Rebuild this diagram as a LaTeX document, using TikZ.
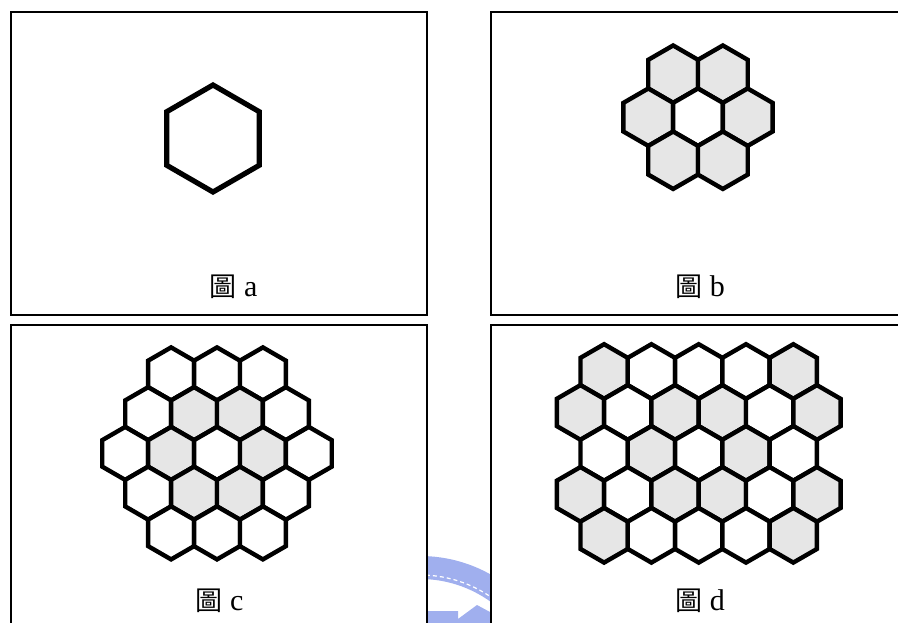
\documentclass[tikz,border=0pt]{standalone}
\usepackage{fontspec}
\usetikzlibrary{calc}
\setmainfont{Liberation Serif}
\newfontfamily\cjk{Noto Sans CJK TC}
\definecolor{hexgray}{HTML}{E6E6E6}
\definecolor{wmblue}{RGB}{160,175,238}
\newcommand\hexcell[4]{\draw[hexline,fill=#4] (#1,#2) +(90:#3) -- +(150:#3) -- +(210:#3) -- +(270:#3) -- +(330:#3) -- +(30:#3) -- cycle;}
\tikzset{
  panel/.style={draw=black,line width=2pt,fill=white},
  hexline/.style={draw=black,line width=4.4pt,line join=miter},
  caption/.style={anchor=base,inner sep=0pt,font=\fontsize{30}{31}\selectfont}
}
\begin{document}
\begin{tikzpicture}[x=1pt,y=-1pt]
\useasboundingbox (0,0) rectangle (898,623);
% watermark in the gap
\begin{scope}
  \clip (428,530) rectangle (490,623);
  \fill[wmblue,even odd rule] (420,700) circle (144) (420,700) circle (121);
  \draw[white,line width=1.2pt,dash pattern=on 4pt off 3pt] (420,700) circle (125);
  \foreach \a in {50,54.6,...,96} {
    \pgfmathsetmacro\b{\a+2.6}
    \fill[wmblue] ($(420,700)+(\a:143)$) -- ($(420,700)+(\a:153)$) -- ($(420,700)+(\b:153)$) -- ($(420,700)+(\b:143)$) -- cycle;
  }
  \fill[wmblue] (428,611) -- (458,611) -- (458,619) -- (477,605) -- (490,612) -- (490,623) -- (428,623) -- cycle;
\end{scope}
% panels
\draw[panel] (11,12.5) rectangle (427,315);
\draw[panel] (491,12.5) rectangle (908,315);
\draw[panel] (11,325) rectangle (427,640);
\draw[panel] (491,325) rectangle (908,640);
% panel a
\draw[draw=black,line width=5.2pt,line join=miter] (213,138.5) +(90:53.5) -- +(150:53.5) -- +(210:53.5) -- +(270:53.5) -- +(330:53.5) -- +(30:53.5) -- cycle;
% panel b
\hexcell{673.15}{74.15}{28.7}{hexgray}
\hexcell{722.85}{74.15}{28.7}{hexgray}
\hexcell{648.3}{117.2}{28.7}{hexgray}
\hexcell{698}{117.2}{28.7}{white}
\hexcell{747.7}{117.2}{28.7}{hexgray}
\hexcell{673.15}{160.25}{28.7}{hexgray}
\hexcell{722.85}{160.25}{28.7}{hexgray}
% panel c  (R=26.5, w=45.9, dy=39.75)
\foreach \f [count=\i from 0] in {white,white,white}
  {\pgfmathsetmacro\xx{217+(\i-1)*45.9}\hexcell{\xx}{373.9}{26.5}{\f}}
\foreach \f [count=\i from 0] in {white,hexgray,hexgray,white}
  {\pgfmathsetmacro\xx{217+(\i-1.5)*45.9}\hexcell{\xx}{413.65}{26.5}{\f}}
\foreach \f [count=\i from 0] in {white,hexgray,white,hexgray,white}
  {\pgfmathsetmacro\xx{217+(\i-2)*45.9}\hexcell{\xx}{453.4}{26.5}{\f}}
\foreach \f [count=\i from 0] in {white,hexgray,hexgray,white}
  {\pgfmathsetmacro\xx{217+(\i-1.5)*45.9}\hexcell{\xx}{493.15}{26.5}{\f}}
\foreach \f [count=\i from 0] in {white,white,white}
  {\pgfmathsetmacro\xx{217+(\i-1)*45.9}\hexcell{\xx}{532.9}{26.5}{\f}}
% panel d (R=27.3, w=47.3, dy=40.95)
\foreach \f [count=\i from 0] in {hexgray,white,white,white,hexgray}
  {\pgfmathsetmacro\xx{698.7+(\i-2)*47.3}\hexcell{\xx}{371.5}{27.3}{\f}}
\foreach \f [count=\i from 0] in {hexgray,white,hexgray,hexgray,white,hexgray}
  {\pgfmathsetmacro\xx{698.7+(\i-2.5)*47.3}\hexcell{\xx}{412.45}{27.3}{\f}}
\foreach \f [count=\i from 0] in {white,hexgray,white,hexgray,white}
  {\pgfmathsetmacro\xx{698.7+(\i-2)*47.3}\hexcell{\xx}{453.4}{27.3}{\f}}
\foreach \f [count=\i from 0] in {hexgray,white,hexgray,hexgray,white,hexgray}
  {\pgfmathsetmacro\xx{698.7+(\i-2.5)*47.3}\hexcell{\xx}{494.35}{27.3}{\f}}
\foreach \f [count=\i from 0] in {hexgray,white,white,white,hexgray}
  {\pgfmathsetmacro\xx{698.7+(\i-2)*47.3}\hexcell{\xx}{535.3}{27.3}{\f}}
% captions
\node[caption] (la) at (233.5,297) {{\cjk\fontsize{27}{28}\selectfont 圖} a};
\node[caption] (lb) at (700,297) {{\cjk\fontsize{27}{28}\selectfont 圖} b};
\node[caption] (lc) at (219.5,610) {{\cjk\fontsize{27}{28}\selectfont 圖} c};
\node[caption] (ld) at (700,610) {{\cjk\fontsize{27}{28}\selectfont 圖} d};
\end{tikzpicture}
\end{document}
